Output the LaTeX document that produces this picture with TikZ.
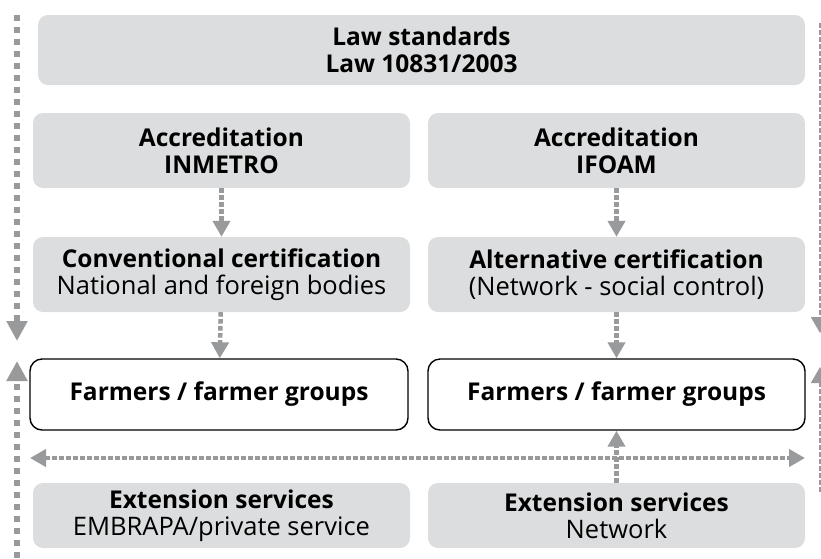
\documentclass[tikz,border=0pt]{standalone}
\usepackage{fontspec}
\setmainfont{Open Sans}
\usetikzlibrary{arrows.meta}

\definecolor{boxgray}{HTML}{DCDDDE}
\definecolor{arrowgray}{HTML}{999A9C}

\tikzset{
    greybox/.style = {fill = boxgray, rounded corners = 10pt, inner sep = 0pt,
        align = center, minimum width = 377pt, minimum height = 75pt,
        font = \fontsize{24.5}{27}\selectfont},
    farmbox/.style = {greybox, fill = white, draw = black, line width = 1.4pt,
        rounded corners = 12pt, minimum height = 71pt,
        font = \fontsize{24.5}{27}\selectfont\bfseries},
    flowarrow/.style = {draw = arrowgray, line width = 4.5pt, dash pattern = on 4.5pt off 2.5pt,
        -{Triangle[length = 16pt, width = 17pt]}},
    sidethick/.style = {draw = arrowgray, line width = 6pt, dash pattern = on 6pt off 6pt,
        -{Triangle[length = 20pt, width = 20pt]}},
    sidethin/.style = {draw = arrowgray, line width = 2pt, dash pattern = on 5pt off 2pt,
        -{Triangle[length = 16pt, width = 18pt]}},
}

\begin{document}
\begin{tikzpicture}[x = 1pt, y = -1pt]
    \useasboundingbox (0, 0) rectangle (821, 558);

    % law
    \node [greybox, minimum width = 767pt, minimum height = 70pt] (law) at (421.5, 50)
        {\bfseries Law standards\\\bfseries Law 10831/2003};

    % left column
    \node [greybox] (accL)  at (221.5, 150.5) {\bfseries Accreditation\\\bfseries INMETRO};
    \node [greybox] (certL) at (221.5, 274.5) {\bfseries Conventional certification\\{\fontsize{25.5}{27}\selectfont National and foreign bodies}};
    \node [farmbox, minimum width = 378pt] (farmL) at (219, 394.5) {Farmers / farmer groups};
    \node [greybox, minimum height = 65pt] (extL) at (221.5, 515.5) {\bfseries Extension services\\{\fontsize{25.5}{27}\selectfont EMBRAPA/private service}};

    % right column
    \node [greybox] (accR)  at (616.5, 150.5) {\bfseries Accreditation\\\bfseries IFOAM};
    \node [greybox] (certR) at (616.5, 274.5) {\bfseries Alternative certification\\{\fontsize{25.5}{27}\selectfont (Network - social control)}};
    \node [farmbox, minimum width = 377pt] (farmR) at (616.5, 394.5) {Farmers / farmer groups};
    \node [greybox, minimum height = 65pt] (extR) at (616.5, 515.5) {\bfseries Extension services\\{\fontsize{25.5}{27}\selectfont Network}};

    % arrows between boxes
    \draw [flowarrow] (accL) -- (certL);
    \draw [flowarrow] (certL) -- (farmL);
    \draw [flowarrow] (accR) -- (certR);
    \draw [flowarrow] (certR) -- (farmR);
    \draw [flowarrow] (extR) -- (farmR);

    % exchange between networks
    \coordinate (xchL) at (30, 458);
    \coordinate (xchR) at (805, 458);
    \draw [flowarrow, {Triangle[length = 16pt, width = 17pt]}-{Triangle[length = 16pt, width = 17pt]}] (xchL) -- (xchR);

    % side lines
    \coordinate (leftTop)  at (17, 15);
    \coordinate (leftDown) at (17, 341);
    \coordinate (leftBot)  at (17, 558);
    \coordinate (leftUp)   at (17, 361);
    \draw [sidethick] (leftTop) -- (leftDown);
    \draw [sidethick] (leftBot) -- (leftUp);

    \coordinate (rightTop)  at (820, 23);
    \coordinate (rightDown) at (820, 333);
    \coordinate (rightBot)  at (820, 492);
    \coordinate (rightUp)   at (820, 367);
    \draw [sidethin] (rightTop) -- (rightDown);
    \draw [sidethin] (rightBot) -- (rightUp);
\end{tikzpicture}
\end{document}
